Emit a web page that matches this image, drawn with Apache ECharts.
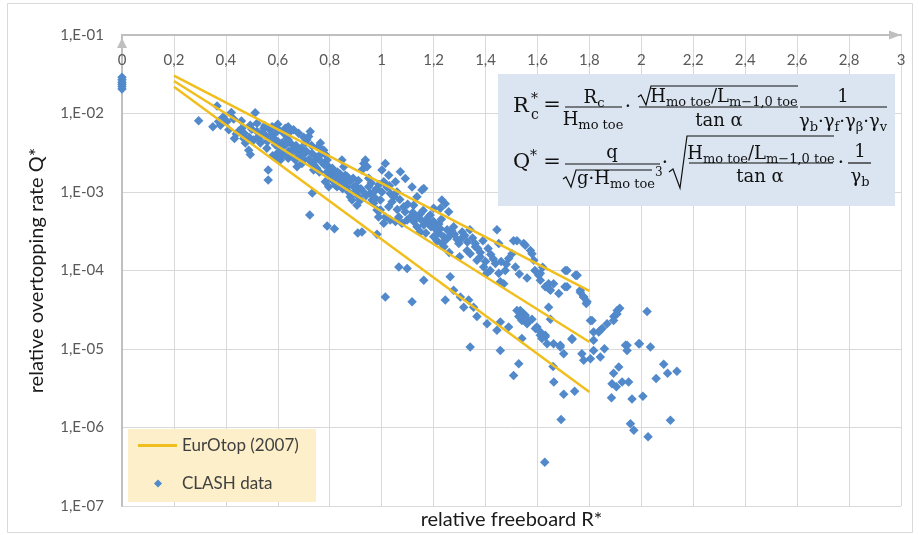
<!DOCTYPE html>
<html>
<head>
<meta charset="utf-8">
<script src="https://cdn.jsdelivr.net/npm/echarts@6/dist/echarts.min.js"></script>
<style>
html, body { margin: 0; padding: 0; background: #fff; }
#chart { width: 919px; height: 535px; }
</style>
</head>
<body>
<div id="chart"></div>
<script>
// EurOtop (2007) lines, straight in log space -> two ends each
var lineX = [0.2, 1.8];
var upperQ = [0.0303, 5.5e-5];
var meanQ = [0.0259, 1.23e-5];
var lowerQ = [0.0219, 2.84e-6];

// CLASH data [R*, Q*]
var clashPoints = [
  [0, 2.9e-2], [0, 2.7e-2], [0, 2.5e-2], [0, 2.35e-2], [0, 2.2e-2], [0, 2.05e-2],
  [0.295, 8.1e-3], [0.366, 1.25e-2], [0.421, 1.03e-2], [0.513, 1.02e-2], [0.350, 6.8e-3], [0.372, 7.9e-3],
  [0.379, 7.1e-3], [0.404, 7.9e-3], [0.411, 6.2e-3], [0.433, 4.8e-3], [0.440, 5.5e-3], [0.462, 6.5e-3],
  [0.469, 4.8e-3], [0.475, 4.2e-3], [0.488, 3.4e-3], [0.494, 3.0e-3], [0.494, 7.1e-3], [0.520, 5.9e-3],
  [0.526, 5.1e-3], [0.507, 4.6e-3], [0.533, 4.2e-3], [0.546, 6.5e-3], [0.552, 5.3e-3], [0.558, 3.6e-3],
  [0.569, 6.2e-3], [0.578, 6.8e-3], [0.584, 4.8e-3], [0.591, 4.0e-3], [0.597, 3.1e-3], [0.603, 6.2e-3],
  [0.610, 2.55e-3], [0.616, 4.2e-3], [0.623, 5.6e-3], [0.629, 6.5e-3], [0.635, 4.8e-3], [0.642, 3.3e-3],
  [0.648, 5.9e-3], [0.655, 4.0e-3], [0.661, 6.2e-3], [0.668, 2.55e-3], [0.674, 2.1e-3], [0.680, 2.8e-3],
  [0.687, 3.1e-3], [0.693, 2.3e-3], [0.700, 2.55e-3], [0.706, 4.2e-3], [0.712, 4.6e-3], [0.719, 5.1e-3],
  [0.725, 5.9e-3], [0.732, 3.1e-3], [0.738, 1.9e-3], [0.745, 2.55e-3], [0.751, 2.8e-3], [0.757, 3.8e-3],
  [0.764, 4.2e-3], [0.777, 3.4e-3], [0.783, 3.0e-3], [0.790, 2.55e-3], [0.796, 2.1e-3], [0.802, 1.57e-3],
  [0.809, 1.42e-3], [0.815, 1.73e-3], [0.822, 1.22e-3], [0.828, 1.17e-3], [0.834, 1.49e-3], [0.841, 1.29e-3],
  [0.847, 2.55e-3], [0.854, 2.1e-3], [0.860, 1.64e-3], [0.867, 1.17e-3], [0.873, 1.0e-3], [0.879, 8.7e-4],
  [0.886, 7.9e-4], [0.892, 1.17e-3], [0.899, 1.0e-3], [0.905, 6.8e-4], [0.911, 8.7e-4], [0.918, 7.9e-4],
  [0.924, 1.9e-3], [0.931, 2.3e-3], [0.937, 2.55e-3], [0.944, 2.1e-3], [0.950, 1.17e-3], [0.956, 9.6e-4],
  [0.963, 7.9e-4], [0.969, 7.2e-4], [0.976, 8.3e-4], [0.982, 5.9e-4], [0.988, 4.8e-4], [0.995, 7.9e-4],
  [1.001, 1.0e-3], [1.008, 4.0e-4], [1.014, 2.3e-3], [1.021, 1.17e-3], [1.027, 6.5e-4], [0.563, 1.9e-3],
  [0.563, 1.42e-3], [0.733, 9.7e-4], [0.723, 5.1e-4], [0.790, 3.7e-4], [0.818, 3.4e-4], [0.908, 3.0e-4],
  [0.924, 3.1e-4], [0.982, 2.9e-4], [0.783, 1.35e-3], [0.796, 1.17e-3], [0.854, 1.42e-3], [0.867, 1.57e-3],
  [0.45, 6.0e-3], [0.47, 5.6e-3], [0.49, 5.0e-3], [0.50, 6.3e-3], [0.53, 4.6e-3], [0.54, 5.6e-3],
  [0.56, 4.4e-3], [0.57, 5.1e-3], [0.59, 5.6e-3], [0.60, 4.4e-3], [0.61, 3.6e-3], [0.63, 4.0e-3],
  [0.64, 4.6e-3], [0.66, 3.5e-3], [0.67, 3.9e-3], [0.69, 3.6e-3], [0.71, 3.3e-3], [0.73, 3.9e-3],
  [0.74, 2.2e-3], [0.76, 2.9e-3], [0.78, 2.2e-3], [0.80, 1.9e-3], [0.82, 1.5e-3], [0.84, 1.7e-3],
  [0.86, 1.3e-3], [0.88, 1.4e-3], [0.90, 1.2e-3], [0.92, 1.1e-3], [0.94, 9.0e-4], [0.96, 1.3e-3],
  [0.98, 1.1e-3],
  [0.58, 2.9e-3], [0.60, 2.7e-3], [0.62, 3.0e-3], [0.64, 2.7e-3], [0.65, 2.9e-3], [0.67, 3.3e-3],
  [0.70, 3.0e-3], [0.72, 2.6e-3], [0.73, 2.4e-3], [0.75, 2.0e-3], [0.76, 1.8e-3], [0.77, 2.4e-3],
  [0.79, 1.8e-3], [0.81, 2.0e-3], [0.83, 1.8e-3], [0.85, 1.1e-3], [0.87, 1.35e-3], [0.89, 1.5e-3],
  [0.91, 1.4e-3], [0.93, 1.0e-3], [0.95, 1.5e-3], [0.97, 1.0e-3], [0.99, 1.25e-3], [0.52, 7.5e-3],
  [0.55, 7.0e-3], [0.60, 7.3e-3], [0.64, 6.8e-3], [0.68, 5.6e-3], [0.70, 5.0e-3], [0.43, 8.5e-3],
  [0.39, 9.0e-3], [0.46, 8.0e-3],
  [1.008, 1.35e-3], [1.021, 1.16e-3], [1.033, 9.6e-4], [1.053, 1.35e-3], [1.046, 8.7e-4], [1.059, 1.0e-3],
  [0.995, 5.9e-4], [1.014, 4.8e-4], [1.033, 4.4e-4], [1.053, 4.2e-4], [1.066, 4.8e-4], [1.078, 4.0e-4],
  [1.098, 4.4e-4], [1.111, 4.8e-4], [1.123, 4.2e-4], [1.136, 3.6e-4], [1.149, 3.1e-4], [1.162, 3.8e-4],
  [1.175, 4.4e-4], [1.187, 5.1e-4], [1.200, 2.7e-4], [1.213, 2.4e-4], [1.220, 3.0e-4], [1.232, 2.2e-4],
  [1.239, 2.7e-4], [1.252, 3.3e-4], [1.264, 2.8e-4], [1.277, 3.6e-4], [1.297, 2.2e-4], [1.309, 2.6e-4],
  [1.329, 1.8e-4], [1.341, 1.64e-4], [1.361, 2.0e-4], [1.367, 1.35e-4], [1.380, 1.49e-4], [1.393, 1.11e-4],
  [1.405, 9.2e-5], [1.418, 1.0e-4], [1.438, 1.23e-4], [1.451, 9.2e-5], [1.457, 7.2e-5], [1.470, 6.8e-5],
  [1.476, 1.0e-4], [1.489, 1.42e-4], [1.502, 1.64e-4], [1.515, 1.11e-4], [1.521, 2.4e-4], [1.547, 2.2e-4],
  [1.573, 1.8e-4], [1.586, 1.35e-4], [1.605, 8.7e-5], [1.611, 7.5e-5], [1.630, 6.2e-5], [1.643, 6.8e-5],
  [1.650, 5.6e-5], [1.662, 6.8e-5], [1.682, 5.1e-5], [1.707, 1.0e-4], [1.714, 6.2e-5], [1.746, 8.7e-5],
  [1.765, 5.6e-5], [1.778, 4.6e-5], [1.791, 4.0e-5], [1.804, 2.3e-5], [1.816, 1.65e-5], [1.842, 1.73e-5],
  [1.868, 2.1e-5], [1.894, 2.6e-5], [1.907, 3.1e-5], [2.022, 3.0e-5], [1.945, 1.12e-5], [1.990, 1.17e-5],
  [2.035, 1.06e-5],
  [1.155, 1.06e-3], [1.162, 1.11e-3], [1.232, 7.9e-4], [1.245, 7.1e-4], [1.258, 5.6e-4], [1.226, 6.2e-4],
  [1.444, 3.3e-4], [1.451, 2.2e-4], [1.508, 2.4e-4], [1.553, 2.1e-4], [1.752, 8.7e-5],
  [1.066, 1.11e-4], [1.098, 1.06e-4], [1.014, 4.6e-5], [1.117, 4.0e-5], [1.162, 7.5e-5], [1.245, 4.2e-5],
  [1.264, 8.3e-5], [1.277, 5.6e-5], [1.303, 4.6e-5], [1.316, 3.4e-5], [1.335, 4.2e-5], [1.354, 3.4e-5],
  [1.367, 2.6e-5], [1.406, 2.1e-5], [1.444, 1.73e-5], [1.457, 2.2e-5], [1.489, 1.9e-5], [1.521, 3.1e-5],
  [1.540, 2.3e-5], [1.547, 2.8e-5], [1.560, 2.1e-5], [1.579, 2.4e-5], [1.598, 1.9e-5], [1.611, 1.5e-5],
  [1.630, 1.43e-5], [1.662, 1.17e-5], [1.688, 1.12e-5], [1.733, 1.36e-5], [1.341, 1.06e-5],
  [1.001, 1.9e-3], [1.027, 1.64e-3], [1.072, 1.81e-3], [1.091, 1.49e-3], [1.117, 1.16e-3], [1.136, 8.7e-4],
  [1.123, 6.8e-4], [1.085, 6.5e-4], [1.149, 5.3e-4], [1.200, 6.2e-4], [1.207, 3.8e-4], [1.226, 3.4e-4],
  [1.18, 4.0e-4], [1.19, 3.6e-4], [1.21, 3.3e-4], [1.17, 3.0e-4], [1.25, 2.5e-4], [1.28, 2.9e-4],
  [1.31, 3.1e-4], [1.33, 2.3e-4], [1.35, 2.6e-4], [1.24, 2.0e-4], [1.26, 1.7e-4], [1.30, 1.5e-4],
  [1.38, 1.7e-4], [1.40, 1.3e-4], [1.42, 1.6e-4],
  [1.03, 1.2e-3], [1.04, 7.5e-4], [1.06, 6.0e-4], [1.07, 8.0e-4], [1.09, 5.6e-4], [1.10, 7.0e-4],
  [1.12, 5.5e-4], [1.13, 4.8e-4], [1.15, 4.5e-4], [1.16, 5.8e-4], [1.18, 4.8e-4], [1.20, 4.2e-4],
  [1.22, 3.9e-4], [1.23, 4.5e-4], [1.27, 3.2e-4], [1.29, 2.5e-4], [1.32, 2.8e-4], [1.34, 3.3e-4],
  [1.36, 2.2e-4], [1.37, 1.9e-4], [1.39, 2.4e-4], [1.41, 1.9e-4], [1.43, 1.4e-4], [1.46, 1.3e-4],
  [1.48, 1.2e-4], [1.53, 9.0e-5], [1.56, 8.0e-5], [1.59, 1.0e-4], [1.62, 1.1e-4],
  [1.810, 2.3e-5], [1.816, 1.29e-5], [1.836, 1.65e-5], [1.849, 1.82e-5], [1.858, 1.01e-5], [1.842, 7.9e-6],
  [1.816, 9.6e-6], [1.804, 7.5e-6], [1.778, 7.2e-6], [1.771, 8.7e-6], [1.893, 2.3e-5], [1.906, 2.8e-5],
  [1.917, 3.3e-5], [1.939, 1.12e-5], [1.945, 9.6e-6], [1.993, 1.17e-5], [1.893, 4.9e-6], [1.913, 5.9e-6],
  [1.887, 3.6e-6], [1.904, 3.3e-6], [1.926, 3.8e-6], [1.951, 3.8e-6], [1.885, 2.4e-6], [1.964, 2.3e-6],
  [2.006, 2.5e-6], [2.086, 6.4e-6], [2.101, 4.9e-6], [2.137, 5.2e-6], [2.057, 4.2e-6], [1.958, 1.12e-6],
  [1.971, 9.2e-7], [2.026, 7.6e-7], [2.112, 1.24e-6], [1.628, 3.6e-7], [1.691, 1.26e-6], [1.701, 2.65e-6],
  [1.743, 2.9e-6], [1.663, 3.8e-6], [1.660, 6.0e-6], [1.508, 4.6e-6], [1.528, 6.5e-6], [1.457, 9.6e-6],
  [1.540, 1.36e-5], [1.688, 1.06e-5], [1.701, 8.7e-6], [1.733, 1.32e-5], [1.650, 2.4e-5], [1.643, 3.4e-5],
  [1.611, 1.65e-5], [1.630, 1.5e-5], [1.637, 1.17e-5], [1.617, 1.36e-5], [1.592, 1.82e-5], [1.534, 3.1e-5],
  [1.553, 2.7e-5], [1.566, 2.3e-5], [1.528, 2.6e-5], [1.714, 1.0e-4], [1.752, 8.7e-5], [1.765, 5.3e-5],
  [1.778, 4.6e-5], [1.788, 3.8e-5], [1.706, 6.2e-5], [1.643, 5.9e-5], [1.611, 9.2e-5], [1.579, 1.64e-4]
];

var myChart = echarts.init(document.getElementById('chart'));

var SERIF = 'DejaVu Serif';
var INK = '#111';
var rich = {
  n: { fontSize: 18, fontFamily: SERIF, lineHeight: 24, verticalAlign: 'middle', fill: INK },
  s: { fontSize: 13, fontFamily: SERIF, lineHeight: 15, verticalAlign: 'bottom', fill: INK },
  p: { fontSize: 12, fontFamily: SERIF, lineHeight: 14, verticalAlign: 'top', fill: INK }
};

function txt(x, y, text, align, size) {
  return {
    type: 'text', x: x, y: y, z: 20,
    style: {
      text: text, rich: rich, fill: INK, align: align || 'center', verticalAlign: 'middle',
      fontFamily: SERIF, fontSize: size || 18
    }
  };
}
function bar(x1, x2, y) {
  return { type: 'line', z: 20, shape: { x1: x1, y1: y, x2: x2, y2: y }, style: { stroke: INK, lineWidth: 1.2 } };
}
function radical(pts) {
  return { type: 'polyline', z: 20, shape: { points: pts }, style: { stroke: INK, lineWidth: 1.2, fill: null } };
}

var ratio = '{n|H}{s|mo toe}{n|/L}{s|m\u22121,0 toe}';

var formula = [
  { type: 'rect', z: 15, shape: { x: 498, y: 74, width: 397, height: 132 }, style: { fill: '#dbe5f1' } },
  // row 1
  txt(513, 107, 'R', 'left', 21),
  txt(531, 99, '*', 'left', 14),
  txt(531, 115, 'c', 'left', 14),
  txt(552, 106, '=', 'center', 21),
  txt(594, 98, '{n|R}{s|c}'),
  bar(565, 622, 107),
  txt(593, 120, '{n|H}{s|mo toe}'),
  txt(628, 108, '\u00b7', 'center', 20),
  radical([[638, 97], [641, 95], [646, 105], [651, 86], [798, 86]]),
  txt(724, 97, ratio),
  bar(639, 798, 107),
  txt(719, 121, '{n|tan \u03b1}'),
  bar(800, 887, 107),
  txt(843, 97, '{n|1}'),
  txt(843, 122, '{n|\u03b3}{s|b}{n|\u00b7\u03b3}{s|f}{n|\u00b7\u03b3}{s|\u03b2}{n|\u00b7\u03b3}{s|v}'),
  // row 2
  txt(513, 163, 'Q', 'left', 21),
  txt(530, 156, '*', 'left', 14),
  txt(552, 163, '=', 'center', 21),
  txt(612, 153, '{n|q}'),
  bar(565, 660, 164),
  radical([[563, 179], [566, 177], [571, 187], [576, 170], [652, 170]]),
  txt(577, 179, '{n|g\u00b7H}{s|mo toe}{p|3}', 'left'),
  txt(665, 164, '\u00b7', 'center', 20),
  radical([[669, 172], [673, 169], [680, 188], [687, 136], [834, 136]]),
  txt(761, 154, ratio),
  bar(689, 833, 163),
  txt(760, 177, '{n|tan \u03b1}'),
  txt(841, 164, '\u00b7', 'center', 20),
  txt(860, 152, '{n|1}'),
  bar(848, 871, 163),
  txt(860, 177, '{n|\u03b3}{s|b}')
];

var axisGray = '#bfbfbf';
var labelFont = { color: '#595959', fontFamily: 'Lato', fontSize: 15 };
var nameFont = { color: '#1a1a1a', fontFamily: 'Lato', fontSize: 20 };
var yellow = '#f0bf1e';

function lineSeries(qs) {
  return {
    type: 'line',
    name: 'EurOtop (2007)',
    data: lineX.map(function (x, i) { return [x, qs[i]]; }),
    symbol: 'none',
    z: 3,
    lineStyle: { color: yellow, width: 2.5 },
    itemStyle: { color: yellow }
  };
}

var option = {
  backgroundColor: '#fff',
  animation: false,
  grid: { left: 122, right: 18, top: 35, bottom: 29 },
  legend: [{
    data: [{ name: 'EurOtop (2007)', icon: 'rect' }],
    left: 138, top: 437, padding: 0,
    itemWidth: 39, itemHeight: 3,
    selectedMode: false,
    itemStyle: { color: yellow },
    textStyle: { color: '#404040', fontFamily: 'Lato', fontSize: 17 }
  }, {
    data: ['CLASH data'],
    left: 154, top: 475, padding: 0,
    icon: 'diamond', itemWidth: 8, itemHeight: 8,
    selectedMode: false,
    textStyle: { color: '#404040', fontFamily: 'Lato', fontSize: 17, padding: [0, 0, 0, 15] }
  }],
  xAxis: [{
    type: 'value', position: 'top', min: 0, max: 3, interval: 0.2,
    axisLine: {
      show: true, onZero: false,
      lineStyle: { color: axisGray, width: 2 },
      symbol: ['none', 'triangle'], symbolSize: [9, 12], symbolOffset: [0, -6]
    },
    axisTick: { show: false },
    axisLabel: {
      inside: true, margin: 18, showMinLabel: true, showMaxLabel: true,
      color: labelFont.color, fontFamily: labelFont.fontFamily, fontSize: labelFont.fontSize,
      formatter: function (v) { return String(+v.toFixed(1)).replace('.', ','); }
    },
    splitLine: { show: true, lineStyle: { color: '#d9d9d9', width: 1 } }
  }, {
    type: 'value', position: 'bottom', min: 0, max: 3,
    name: 'relative freeboard R*', nameLocation: 'middle', nameGap: 4,
    nameTextStyle: nameFont,
    axisLine: { show: false }, axisTick: { show: false },
    axisLabel: { show: false }, splitLine: { show: false }
  }],
  yAxis: {
    type: 'log', logBase: 10, min: 1e-7, max: 1e-1, splitNumber: 6,
    name: 'relative overtopping rate Q*', nameLocation: 'middle', nameGap: 75,
    nameTextStyle: nameFont,
    axisLine: {
      show: true,
      lineStyle: { color: axisGray, width: 2 },
      symbol: ['none', 'triangle'], symbolSize: [10, 10], symbolOffset: [0, -8]
    },
    axisTick: { show: false },
    axisLabel: {
      margin: 18,
      color: labelFont.color, fontFamily: labelFont.fontFamily, fontSize: labelFont.fontSize,
      formatter: function (v) {
        var e = -Math.round(Math.log10(v));
        return '1,E-' + (e < 10 ? '0' : '') + e;
      }
    },
    splitLine: { show: true, lineStyle: { color: '#d9d9d9', width: 1 } }
  },
  graphic: [
    { type: 'rect', z: -1, shape: { x: 7.5, y: 3.5, width: 905, height: 529 }, style: { fill: null, stroke: '#d9d9d9', lineWidth: 1 } },
    { type: 'rect', z: 3, shape: { x: 128, y: 429, width: 188, height: 73 }, style: { fill: '#fcefc9' } }
  ].concat(formula),
  series: [
    {
      type: 'scatter',
      name: 'CLASH data',
      data: clashPoints,
      symbol: 'diamond',
      symbolSize: 9.5,
      z: 2,
      itemStyle: { color: '#5189cb', opacity: 1 }
    },
    lineSeries(upperQ),
    lineSeries(meanQ),
    lineSeries(lowerQ)
  ]
};

myChart.setOption(option);

window.addEventListener('resize', function () {
  myChart.resize();
});
</script>
</body>
</html>
